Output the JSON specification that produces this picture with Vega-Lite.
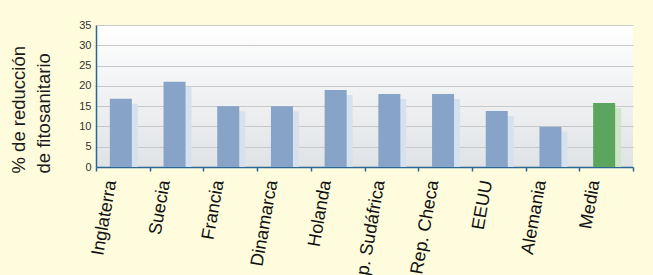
{
  "$schema": "https://vega.github.io/schema/vega-lite/v6.json",
  "width": 537,
  "height": 142,
  "autosize": {"type": "none"},
  "padding": {"left": 96, "top": 25, "right": 20, "bottom": 108},
  "background": "#fefcdc",
  "config": {
    "font": "Liberation Sans",
    "view": {
      "stroke": null,
      "fill": {"gradient": "linear", "x1": 0, "y1": 0, "x2": 0, "y2": 1, "stops": [{"offset": 0, "color": "#ffffff"}, {"offset": 1, "color": "#e0e3e6"}]}
    }
  },
  "data": {
    "values": [
      {"pais": "Inglaterra", "valor": 16.8, "tipo": "pais"},
      {"pais": "Suecia", "valor": 21, "tipo": "pais"},
      {"pais": "Francia", "valor": 15, "tipo": "pais"},
      {"pais": "Dinamarca", "valor": 15, "tipo": "pais"},
      {"pais": "Holanda", "valor": 19, "tipo": "pais"},
      {"pais": "Rep. Sudáfrica", "valor": 18, "tipo": "pais"},
      {"pais": "Rep. Checa", "valor": 18, "tipo": "pais"},
      {"pais": "EEUU", "valor": 13.8, "tipo": "pais"},
      {"pais": "Alemania", "valor": 9.9, "tipo": "pais"},
      {"pais": "Media", "valor": 15.8, "tipo": "media"}
    ]
  },
  "encoding": {
    "x": {
      "field": "pais", "type": "nominal", "sort": null, "title": null,
      "scale": {"paddingInner": 0, "paddingOuter": 0},
      "axis": {
        "labelAngle": -80, "labelAlign": "right", "labelBaseline": "middle",
        "labelFontSize": 18, "labelColor": "#111111",
        "labelPadding": 9, "labelOffset": -12, "labelOverlap": false, "labelBound": false,
        "domainColor": "#2a6796", "domainWidth": 1.5,
        "tickColor": "#2a6796", "tickSize": 4, "tickBand": "extent", "tickWidth": 1.5,
        "grid": false
      }
    },
    "y": {
      "field": "valor", "type": "quantitative",
      "scale": {"domain": [0, 35]},
      "axis": {
        "values": [0, 5, 10, 15, 20, 25, 30, 35],
        "title": ["% de reducción", "de fitosanitario"],
        "titleFontSize": 18.5, "titleFontWeight": "normal", "titleColor": "#1a1a1a",
        "titleLineHeight": 25, "titleY": 148, "titleAlign": "left", "titlePadding": 25,
        "labelFontSize": 11, "labelColor": "#333333", "labelPadding": 5,
        "ticks": false,
        "domainColor": "#2a6796", "domainWidth": 1.5,
        "gridColor": "#c8c8c8", "gridWidth": 1.2
      }
    }
  },
  "layer": [
    {
      "mark": {"type": "bar", "width": 22, "xOffset": 4, "yOffset": 5, "y2Offset": 0},
      "encoding": {
        "y": {"field": "valor", "type": "quantitative", "stack": null},
        "y2": {"datum": 0},
        "color": {"field": "tipo", "type": "nominal", "legend": null,
          "scale": {"domain": ["pais", "media"], "range": ["#d6e1ef", "#cde6c9"]}}
      }
    },
    {
      "mark": {"type": "bar", "width": 22, "xOffset": -2},
      "encoding": {
        "color": {"field": "tipo", "type": "nominal", "legend": null,
          "scale": {"domain": ["pais", "media"], "range": ["#87a3c7", "#5ba55e"]}}
      }
    }
  ],
  "resolve": {"scale": {"color": "independent"}}
}
